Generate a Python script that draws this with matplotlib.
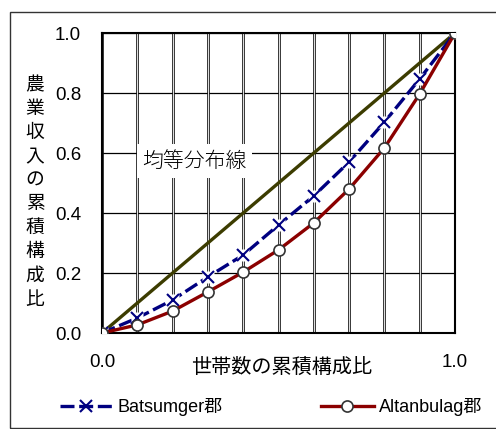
import matplotlib as mpl
mpl.use('Agg')
import matplotlib.pyplot as plt
from matplotlib.lines import Line2D
from matplotlib.patches import Rectangle

plt.rcParams['font.family'] = ['Liberation Sans', 'Noto Sans CJK JP']

# cumulative share of households
x_share = [0.0, 0.1, 0.2, 0.3, 0.4, 0.5, 0.6, 0.7, 0.8, 0.9, 1.0]
batsumger = [0.0, 0.05, 0.11, 0.187, 0.26, 0.36, 0.457, 0.57, 0.703, 0.847, 1.0]
altanbulag = [0.0, 0.027, 0.073, 0.137, 0.203, 0.277, 0.367, 0.48, 0.617, 0.797, 1.0]
equal_line = [0.0, 1.0]

W, H = 496, 429
fig = plt.figure(figsize=(W/100, H/100), dpi=100)

def fx(px): return px/W
def fy(py): return 1-py/H

# outer frame
fig.patches.append(Rectangle((fx(10), fy(428)), 1.2, fy(12)-fy(428), transform=fig.transFigure,
                             fill=False, edgecolor='#333333', lw=1))

ax = fig.add_axes([fx(102), fy(333), fx(455)-fx(102), fy(33)-fy(333)])
ax.set_xlim(0, 1)
ax.set_ylim(0, 1)

# grid: double vertical lines, thin horizontal
for xv in x_share:
    ax.axvline(xv, color='#2a2a2a', lw=2.1, zorder=1)
    ax.axvline(xv, color='#dddddd', lw=0.8, zorder=1.1)
for yv in [0.2, 0.4, 0.6, 0.8, 1.0]:
    ax.axhline(yv, color='black', lw=0.9, zorder=1)

ax.plot([0, 1], equal_line, color='#3c3c00', lw=2.4, zorder=3)

ax.plot(x_share, batsumger, color='#000080', lw=2.4, dashes=(4.2, 1.4), zorder=4)
ax.plot(x_share, batsumger, ls='none', marker='s', ms=9, mfc='white', mec='none', zorder=4.5)
ax.plot(x_share, batsumger, ls='none', marker='x', ms=8, mew=1.5, color='#000080', zorder=5)

ax.plot(x_share, altanbulag, color='#8b0000', lw=2.4, zorder=6)
ax.plot(x_share, altanbulag, ls='none', marker='o', ms=8, mfc='white', mec='#333333', mew=1.2, zorder=7)

ax.text(0.114, 0.573, '均等分布線', fontsize=15, family=['Noto Sans CJK JP'], weight='light',
        va='center', ha='left', zorder=8, bbox=dict(facecolor='white', edgecolor='none', pad=4))

for s in ax.spines.values():
    s.set_linewidth(1.5)
    s.set_color('black')

ax.set_yticks([0.0, 0.2, 0.4, 0.6, 0.8, 1.0])
ax.set_yticklabels(['0.0', '0.2', '0.4', '0.6', '0.8', '1.0'])
ax.set_xticks([0.0, 1.0])
ax.set_xticklabels(['0.0', '1.0'])
ax.tick_params(axis='y', length=0, pad=15, labelsize=13.5)
ax.tick_params(axis='x', length=0, pad=15, labelsize=13.5)

# stacked vertical y label
ylab = '農業収入の累積構成比'
for i, ch in enumerate(ylab):
    fig.text(fx(35), fy(85 + i*23.8), ch, fontsize=13.5, family=['Noto Sans CJK JP'],
             ha='center', va='center')

fig.text(fx(282), fy(367), '世帯数の累積構成比', fontsize=14.5, family=['Noto Sans CJK JP'],
         ha='center', va='center')

h1 = Line2D([], [], color='#000080', lw=2.4, dashes=(4.2, 1.4), marker='x', ms=8, mew=1.5)
h2 = Line2D([], [], color='#8b0000', lw=2.4, marker='o', ms=8, mfc='white', mec='#333333', mew=1.2)
leg1 = fig.legend([h1], ['Batsumger郡'], loc='center left', bbox_to_anchor=(fx(53), fy(407)),
                  frameon=False, fontsize=13, handlelength=2.9, handletextpad=0.3, borderaxespad=0)
leg2 = fig.legend([h2], ['Altanbulag郡'], loc='center left', bbox_to_anchor=(fx(314), fy(407)),
                  frameon=False, fontsize=13, handlelength=2.9, handletextpad=0.3, borderaxespad=0)

fig.savefig('out.png', dpi=100)
